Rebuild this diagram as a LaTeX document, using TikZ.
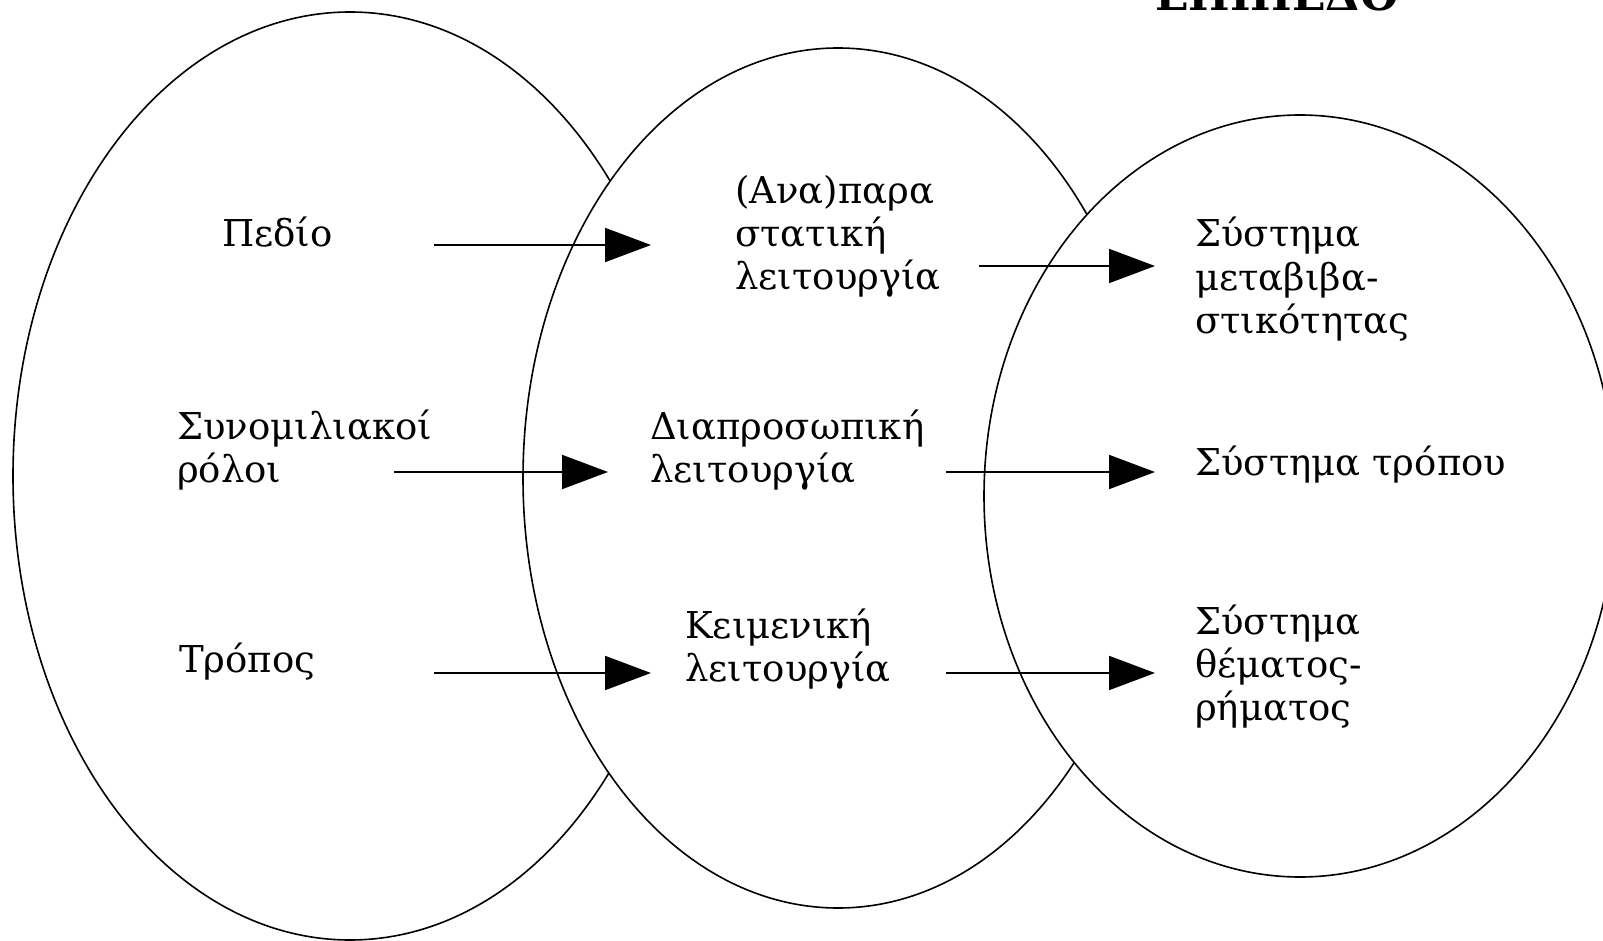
\documentclass[tikz,border=0pt]{standalone}
\usepackage{fontspec}
\setmainfont{DejaVu Serif}
\usetikzlibrary{arrows.meta,positioning}

\begin{document}
\begin{tikzpicture}[x=1pt, y=-1pt,
    every node/.style={font=\fontsize{37}{43}\selectfont, align=left, anchor=base west, inner sep=0pt},
    field/.style={draw=black, fill=white, line width=1.6pt},
    link/.style={line width=2pt, -{Triangle[length=46pt,width=34pt]}}]

\useasboundingbox (0,0) rectangle (1603,941);
\clip (0,0) rectangle (1603,941);

% the three fields, each one laid over the one before
\draw[field] (350,476) ellipse [x radius=337pt, y radius=464pt];
\draw[field] (838,478) ellipse [x radius=315pt, y radius=430pt];
\draw[field] (1300,496) ellipse [x radius=316pt, y radius=381pt];

\node (title) at (1155,11) {\bfseries\fontsize{44}{44}\selectfont ΕΠΙΠΕΔΟ};

% context (base = last line)
\node (pedio) at (222,247) {Πεδίο};
\node (synom) at (177,482) {Συνομιλιακοί\\ρόλοι};
\node (tropos) at (179,672) {Τρόπος};

% functions
\node (anapar) at (735,290) {(Ανα)παρα\\στατική\\λειτουργία};
\node (diapros) at (650,482) {Διαπροσωπική\\λειτουργία};
\node (keimen) at (685,681) {Κειμενική\\λειτουργία};

% systems
\node (metavib) at (1195,333) {Σύστημα\\μεταβιβα-\\στικότητας};
\node (systrop) at (1195,475) {Σύστημα τρόπου};
\node (themat) at (1195,720) {Σύστημα\\θέματος-\\ρήματος};

\coordinate (pedio-out) at (434,245);
\coordinate (anapar-in) at (651,245);
\coordinate (synom-out) at (394,472);
\coordinate (diapros-in) at (608,472);
\coordinate (tropos-out) at (434,673);
\coordinate (keimen-in) at (651,673);
\coordinate (anapar-out) at (979,266);
\coordinate (metavib-in) at (1155,266);
\coordinate (diapros-out) at (946,472);
\coordinate (systrop-in) at (1155,472);
\coordinate (keimen-out) at (946,673);
\coordinate (themat-in) at (1155,673);

\draw[link] (pedio-out) -- (anapar-in);
\draw[link] (synom-out) -- (diapros-in);
\draw[link] (tropos-out) -- (keimen-in);
\draw[link] (anapar-out) -- (metavib-in);
\draw[link] (diapros-out) -- (systrop-in);
\draw[link] (keimen-out) -- (themat-in);
\end{tikzpicture}
\end{document}
